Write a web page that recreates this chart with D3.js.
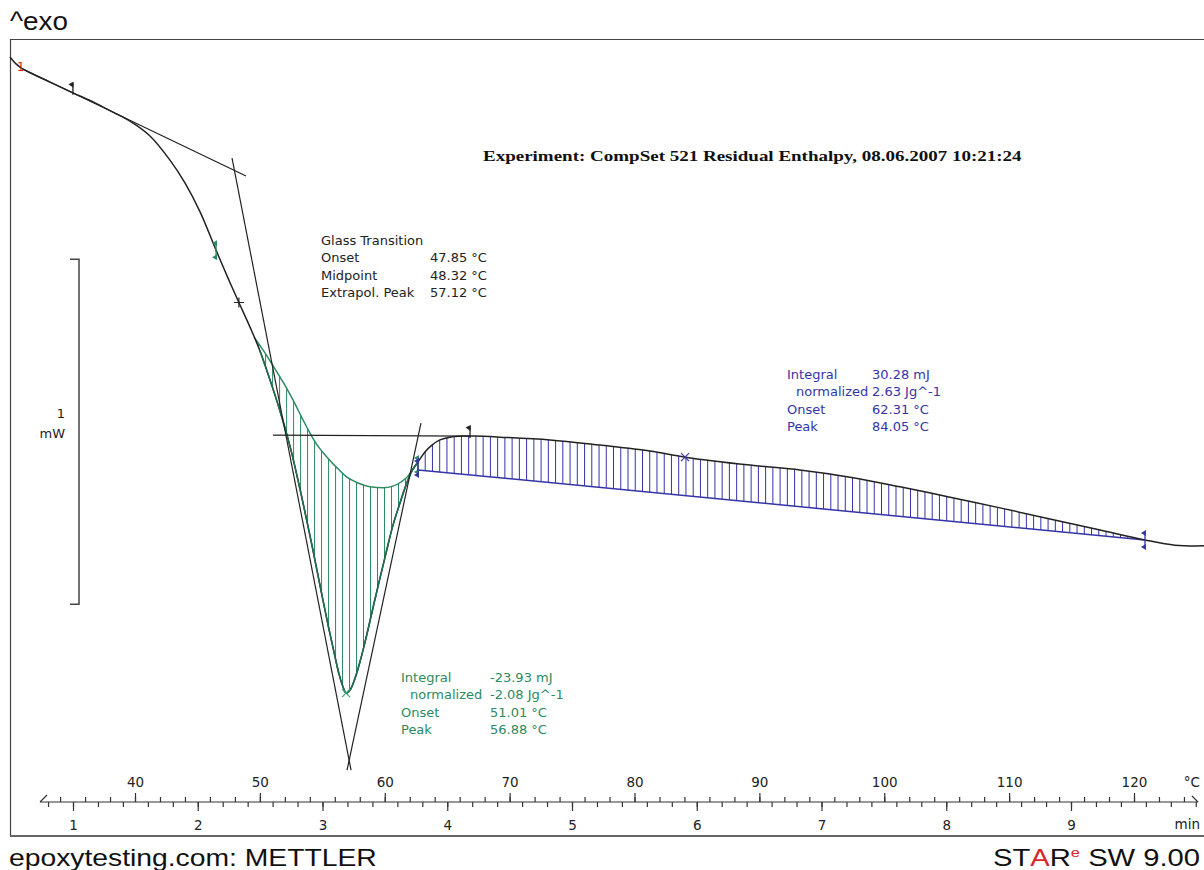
<!DOCTYPE html>
<html>
<head>
<meta charset="utf-8">
<script src="https://cdn.jsdelivr.net/npm/d3@7"></script>
<style>
body { margin: 0; background: #fff; }
svg { display: block; }
</style>
</head>
<body>
<script>
// DSC curve, temperature (°C) and heat flow (mW)
var temps = [29.99, 30.47, 31.03, 33.19, 35.03, 36.80, 38.24, 39.60, 41.20, 42.80, 44.00, 45.21, 46.49, 47.45,
	48.41, 49.21, 50.01, 50.81, 51.61, 52.41, 53.05, 53.61, 54.17, 54.81, 55.46, 56.02, 56.34, 56.66, 56.90,
	57.22, 57.54, 57.94, 58.42, 58.98, 59.54, 60.10, 60.66, 61.22, 61.70, 62.18, 62.66, 63.22, 63.78, 64.42,
	65.23, 66.19, 67.23, 69.23, 73.23, 77.24, 81.24, 84.05, 89.25, 93.25, 97.26, 101.26, 105.27, 109.27,
	113.27, 117.28, 120.88, 123.28, 125.61];
var heatFlow = [-0.297, -0.317, -0.332, -0.370, -0.401, -0.430, -0.457, -0.483, -0.526, -0.596, -0.662, -0.746,
	-0.857, -0.938, -1.016, -1.080, -1.149, -1.233, -1.323, -1.425, -1.523, -1.616, -1.712, -1.828, -1.943,
	-2.036, -2.086, -2.123, -2.141, -2.132, -2.106, -2.060, -1.993, -1.906, -1.819, -1.735, -1.654, -1.590,
	-1.538, -1.497, -1.471, -1.442, -1.422, -1.407, -1.399, -1.396, -1.396, -1.399, -1.407, -1.422, -1.439,
	-1.457, -1.480, -1.494, -1.515, -1.543, -1.573, -1.604, -1.636, -1.668, -1.697, -1.712, -1.714];

// spline baseline under the relaxation peak
var peakBaseT = [49.53, 50.25, 50.97, 51.85, 52.65, 53.37, 54.01, 54.65, 55.38, 56.18, 56.98, 57.86, 58.82,
	59.86, 60.66, 61.30, 61.86, 62.26, 62.66];
var peakBaseH = [-1.109, -1.146, -1.187, -1.239, -1.291, -1.343, -1.387, -1.425, -1.457, -1.488, -1.515, -1.532,
	-1.543, -1.546, -1.541, -1.529, -1.512, -1.491, -1.471];

// straight baseline of the residual reaction
var reactBaseT = [62.66, 120.88];
var reactBaseH = [-1.494, -1.697];

// construction lines [T1, H1, T2, H2]
var tangents = [
	[31.03, -0.332, 48.89, -0.642],	// before the step
	[47.77, -0.590, 57.30, -2.364],	// inflection, left flank
	[62.90, -1.358, 56.98, -2.364],	// right flank
	[51.05, -1.393, 66.83, -1.396]	// after the step
];

var flagTemps = [35.03, 66.83];
var midpointTemp = 48.32;
var greenLimits = [46.49, 62.66];
var blueLimits = [62.66, 120.88];
var greenPeak = 56.90, bluePeak = 84.05;

var tempMajor = d3.range(40, 121, 10);
var tempMinor = d3.range(34, 125, 2);
var timeMajor = d3.range(1, 10, 1);
var timeMinor = d3.range(0.8, 10.01, 0.2);

var glassText = [['Glass Transition', ''], ['Onset', '47.85 °C'], ['Midpoint', '48.32 °C'], ['Extrapol. Peak', '57.12 °C']];
var greenText = [['Integral', '-23.93 mJ'], ['normalized', '-2.08 Jg^-1'], ['Onset', '51.01 °C'], ['Peak', '56.88 °C']];
var blueText = [['Integral', '30.28 mJ'], ['normalized', '2.63 Jg^-1'], ['Onset', '62.31 °C'], ['Peak', '84.05 °C']];

var W = 1204, H = 870;
var green = '#2c8a62', blue = '#3434a8', ink = '#222';

var svg = d3.select('body').append('svg')
	.attr('width', W)
	.attr('height', H);

var x = d3.scaleLinear().domain([40, 120]).range([135, 1134]);
var xt = d3.scaleLinear().domain([1, 9]).range([73, 1071]);
var y = d3.scaleLinear().domain([-0.3, -2.3]).range([58, 748]);

// linear read of a series at temperature t (used for hatching only)
function at(ts, hs, t) {
	var i = d3.bisectRight(ts, t);
	i = Math.max(1, Math.min(ts.length - 1, i));
	var a = (t - ts[i - 1]) / (ts[i] - ts[i - 1]);
	return hs[i - 1] + a * (hs[i] - hs[i - 1]);
}

// frame
svg.append('path')
	.attr('d', 'M1204,39.5H10.5V835.5H1204')
	.attr('fill', 'none')
	.attr('stroke', '#444')
	.attr('stroke-width', 1.2);
svg.append('line')
	.attr('x1', 10).attr('x2', 1204).attr('y1', 836).attr('y2', 836)
	.attr('stroke', '#666').attr('stroke-width', 2);

var plot = svg.append('g');

// hatching
var greenHatch = d3.range(49.9, 62.6, 0.56);
plot.selectAll('.gh').data(greenHatch).enter().append('line')
	.attr('x1', d => x(d)).attr('x2', d => x(d))
	.attr('y1', d => y(at(peakBaseT, peakBaseH, d)))
	.attr('y2', d => y(at(temps, heatFlow, d)))
	.attr('stroke', green).attr('stroke-width', 1);

var blueHatch = d3.range(62.66, 120.8, 0.58);
plot.selectAll('.bh').data(blueHatch).enter().append('line')
	.attr('x1', d => x(d)).attr('x2', d => x(d))
	.attr('y1', d => y(at(temps, heatFlow, d)))
	.attr('y2', d => y(at(reactBaseT, reactBaseH, d)))
	.attr('stroke', blue).attr('stroke-width', 1);

// baselines
var line = d3.line().x(d => x(d[0])).y(d => y(d[1])).curve(d3.curveMonotoneX);
plot.append('path')
	.datum(d3.zip(peakBaseT, peakBaseH))
	.attr('d', line)
	.attr('fill', 'none').attr('stroke', green).attr('stroke-width', 1.5);
plot.append('path')
	.datum(d3.zip(reactBaseT, reactBaseH))
	.attr('d', d3.line().x(d => x(d[0])).y(d => y(d[1])))
	.attr('fill', 'none').attr('stroke', blue).attr('stroke-width', 1.5);

// measured curve
var pts = d3.zip(temps, heatFlow);
plot.append('path')
	.datum(pts)
	.attr('d', d3.line().x(d => x(d[0])).y(d => y(d[1])).curve(d3.curveCatmullRom))
	.attr('fill', 'none').attr('stroke', ink).attr('stroke-width', 1.5);
plot.append('path')
	.datum(pts.filter(d => d[0] >= peakBaseT[0] - 0.01 && d[0] <= 62.67))
	.attr('d', d3.line().x(d => x(d[0])).y(d => y(d[1])).curve(d3.curveCatmullRom))
	.attr('fill', 'none').attr('stroke', '#1f6f4c').attr('stroke-width', 1.5);

// construction lines
plot.selectAll('.tan').data(tangents).enter().append('line')
	.attr('x1', d => x(d[0])).attr('y1', d => y(d[1]))
	.attr('x2', d => x(d[2])).attr('y2', d => y(d[3]))
	.attr('stroke', ink).attr('stroke-width', 1.2);

// markers
function curveY(t) { return y(at(temps, heatFlow, t)); }

flagTemps.forEach(function(t) {
	var cx = x(t), cy = curveY(t);
	plot.append('line').attr('x1', cx).attr('x2', cx).attr('y1', cy - 10).attr('y2', cy + 2)
		.attr('stroke', ink).attr('stroke-width', 1.3);
	plot.append('path').attr('d', `M${cx + 0.5},${cy - 11}l-5,2.5l5,3.5z`).attr('fill', ink);
});

var mx = x(midpointTemp), my = curveY(midpointTemp);
plot.append('path').attr('d', `M${mx - 5},${my}h10M${mx},${my - 5}v10`)
	.attr('stroke', ink).attr('stroke-width', 1.2);

function limitMark(t, col, yy) {
	var cx = x(t), cy = yy === undefined ? curveY(t) : yy;
	plot.append('path').attr('d', `M${cx + 1},${cy - 10}l-5,3l5,3z M${cx + 1},${cy + 10}l-5,-3l5,-3z`)
		.attr('fill', col);
	plot.append('line').attr('x1', cx).attr('x2', cx).attr('y1', cy - 7).attr('y2', cy + 7)
		.attr('stroke', col).attr('stroke-width', 1.3);
}
limitMark(greenLimits[0], green);
limitMark(greenLimits[1], green, curveY(greenLimits[1]) + 3);
limitMark(blueLimits[0], blue, curveY(blueLimits[0]) + 6);
limitMark(blueLimits[1], blue);

function cross(t, col) {
	var cx = x(t), cy = curveY(t);
	plot.append('path').attr('d', `M${cx - 4},${cy - 4}l8,8M${cx + 4},${cy - 4}l-8,8`)
		.attr('stroke', col).attr('stroke-width', 1.2);
}
cross(greenPeak, '#3aa27a');
cross(bluePeak, blue);

svg.append('text').attr('x', 17).attr('y', 71)
	.attr('font-family', 'DejaVu Sans').attr('font-size', 12).attr('fill', '#d22')
	.text('1');

// temperature / time axis
var axisY = 802;
svg.append('path')
	.attr('d', `M40,${axisY}H1198M40,${axisY}l7,-7M1198,${axisY}l-6,-6`)
	.attr('fill', 'none').attr('stroke', '#333').attr('stroke-width', 1.2);

function styleAxis(g) {
	g.select('.domain').remove();
	g.selectAll('line').attr('stroke', '#333').attr('stroke-width', 1.2);
	g.attr('font-family', 'DejaVu Sans').attr('font-size', 13.5);
	g.selectAll('text').attr('fill', '#222');
}

svg.append('g').attr('transform', `translate(0,${axisY})`)
	.call(d3.axisTop(x).tickValues(tempMinor).tickSize(5).tickFormat(''))
	.call(styleAxis);
svg.append('g').attr('transform', `translate(0,${axisY})`)
	.call(d3.axisTop(x).tickValues(tempMajor).tickSize(9).tickPadding(6))
	.call(styleAxis);
svg.append('g').attr('transform', `translate(0,${axisY})`)
	.call(d3.axisBottom(xt).tickValues(timeMinor).tickSize(5).tickFormat(''))
	.call(styleAxis);
svg.append('g').attr('transform', `translate(0,${axisY})`)
	.call(d3.axisBottom(xt).tickValues(timeMajor).tickSize(9).tickPadding(9))
	.call(styleAxis);

svg.append('text').attr('x', 1200).attr('y', 787).attr('text-anchor', 'end')
	.attr('font-family', 'DejaVu Sans').attr('font-size', 13.5).attr('fill', '#222').text('°C');
svg.append('text').attr('x', 1200).attr('y', 829).attr('text-anchor', 'end')
	.attr('font-family', 'DejaVu Sans').attr('font-size', 13.5).attr('fill', '#222').text('min');

// 1 mW scale bar
var barTop = -0.883;
svg.append('path')
	.attr('d', `M70,${y(barTop)}H79V${y(barTop - 1)}H70`)
	.attr('fill', 'none').attr('stroke', '#444').attr('stroke-width', 1.5);
svg.append('text').attr('x', 65).attr('y', 418).attr('text-anchor', 'end')
	.attr('font-family', 'DejaVu Sans').attr('font-size', 13).attr('fill', '#222').text('1');
svg.append('text').attr('x', 65).attr('y', 438).attr('text-anchor', 'end')
	.attr('font-family', 'DejaVu Sans').attr('font-size', 13).attr('fill', '#222').text('mW');

// result boxes, second row is indented
function box(rows, lx, vx, y0, col) {
	var g = svg.append('g').attr('font-family', 'DejaVu Sans').attr('font-size', 13).attr('fill', col);
	rows.forEach(function(r, i) {
		g.append('text').attr('x', lx + (r[0] === 'normalized' ? 9 : 0)).attr('y', y0 + i * 17.3).text(r[0]);
		g.append('text').attr('x', vx).attr('y', y0 + i * 17.3).text(r[1]);
	});
}
box(glassText, 321, 430, 245, '#222');
box(greenText, 401, 490, 682, green);
box(blueText, 787, 872, 379, blue);

// stretched titles, the original is wider than the fonts here
function fit(sel, x0, w) {
	var bw = sel.node().getComputedTextLength();
	sel.attr('transform', `translate(${x0},0) scale(${w / bw},1)`);
}

fit(svg.append('text').attr('y', 161)
	.attr('font-family', 'Liberation Serif').attr('font-weight', 'bold').attr('font-size', 15.5).attr('fill', '#111')
	.text('Experiment: CompSet 521 Residual Enthalpy, 08.06.2007 10:21:24'), 483, 539);

fit(svg.append('text').attr('y', 30)
	.attr('font-family', 'Liberation Sans').attr('font-size', 25).attr('fill', '#111')
	.text('^exo'), 10, 58);

fit(svg.append('text').attr('y', 866)
	.attr('font-family', 'Liberation Sans').attr('font-size', 23).attr('fill', '#111')
	.text('epoxytesting.com: METTLER'), 9, 368);

var star = svg.append('text').attr('y', 866)
	.attr('font-family', 'Liberation Sans').attr('font-size', 23).attr('fill', '#111');
star.append('tspan').text('ST');
star.append('tspan').attr('fill', '#d9262c').text('A');
star.append('tspan').text('R');
star.append('tspan').attr('fill', '#d9262c').attr('font-size', 13).attr('dy', -9).text('e');
star.append('tspan').attr('dy', 9).text(' SW 9.00');
fit(star, 993, 205);
</script>
</body>
</html>
